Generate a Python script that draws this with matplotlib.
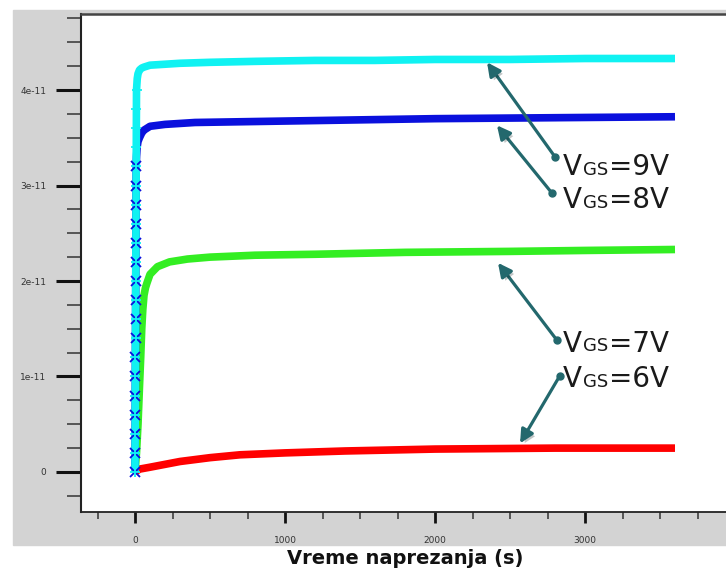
import matplotlib.pyplot as plt
import matplotlib.patheffects as pe
from matplotlib.patches import Rectangle
from matplotlib.ticker import MultipleLocator

# stress time (s) and drain current (A, in units of 1e-11) per gate voltage
t_9v = [0, 0.5, 1, 1.5, 2, 2.5, 3, 3.5, 4, 4.5, 5, 5.5, 6, 6.5, 7, 7.5, 8, 8.5, 9, 9.5, 10,
        15, 20, 30, 45, 60, 100, 200, 300, 500, 800, 1200, 1600, 2000, 2500, 3000, 3600]
i_9v = [0, 0.2, 0.4, 0.6, 0.8, 1.0, 1.2, 1.4, 1.6, 1.8, 2.0, 2.2, 2.4, 2.6, 2.8, 3.0, 3.2, 3.4, 3.6, 3.8, 4.0,
        4.12, 4.17, 4.21, 4.23, 4.24, 4.26, 4.27, 4.28, 4.29, 4.30, 4.31, 4.31, 4.32, 4.32, 4.33, 4.33]

t_8v = [0, 0.5, 1, 1.5, 2, 2.5, 3, 3.5, 4, 4.5, 5, 5.5, 6, 6.5, 7, 7.5, 8,
        10, 14, 20, 30, 45, 60, 100, 200, 400, 800, 1200, 2000, 2800, 3600]
i_8v = [0, 0.2, 0.4, 0.6, 0.8, 1.0, 1.2, 1.4, 1.6, 1.8, 2.0, 2.2, 2.4, 2.6, 2.8, 3.0, 3.2,
        3.3, 3.4, 3.46, 3.5, 3.55, 3.58, 3.62, 3.64, 3.66, 3.67, 3.68, 3.70, 3.71, 3.72]

t_7v = [0, 10, 20, 30, 38, 45, 52, 60, 70, 80, 100, 150, 230, 350, 500, 800, 1200, 1800, 2500, 3000, 3600]
i_7v = [0, 0.2, 0.5, 0.9, 1.2, 1.5, 1.7, 1.85, 1.93, 1.98, 2.07, 2.15, 2.2, 2.23, 2.25, 2.27, 2.28, 2.30,
        2.31, 2.32, 2.33]

t_6v = [0, 30, 100, 200, 300, 400, 500, 700, 1000, 1400, 2000, 2800, 3600]
i_6v = [0, 0.03, 0.05, 0.08, 0.11, 0.13, 0.15, 0.18, 0.20, 0.22, 0.24, 0.25, 0.25]

n_rise = [21, 17, 1, 1]  # leading points drawn with markers

labels = ['V', 'GS', '=9V', '=8V', '=7V', '=6V']
arrow_tail = [(2800, 3.30), (2780, 2.92), (2813, 1.38), (2833, 1.01)]
arrow_head = [(2347, 4.29), (2413, 3.63), (2420, 2.19), (2567, 0.30)]
text_pos = [(2855, 3.11), (2855, 2.76), (2855, 1.26), (2855, 0.89)]

fig = plt.figure(figsize=(7.26, 5.72), dpi=100)
fig.patches.append(Rectangle((13 / 726, 27 / 572), 713 / 726, 535 / 572,
                             transform=fig.transFigure, color='#d3d3d3', zorder=-5))
ax = fig.add_axes([81 / 726, 60 / 572, 645 / 726, 498 / 572])
ax.set_facecolor('white')

scale = 1e-11
series = [
    (t_6v, i_6v, '#ff0000', 'o', n_rise[3]),
    (t_7v, i_7v, '#33ee22', 'o', n_rise[2]),
    (t_8v, i_8v, '#0a10dd', 'x', n_rise[1]),
    (t_9v, i_9v, '#10f2f2', '+', n_rise[0]),
]
for t, i, c, m, n in series:
    y = [v * scale for v in i]
    ax.plot(t, y, color=c, lw=5.5, solid_capstyle='butt', zorder=2)
    if n > 1:
        ax.plot(t[:n], y[:n], ls='none', marker=m, ms=7, mew=1.3, color=c, zorder=3)

teal = '#23686d'
for k in range(4):
    tx, ty = arrow_tail[k]
    hx, hy = arrow_head[k]
    ann = ax.annotate('', xy=(hx, hy * scale), xytext=(tx, ty * scale),
                      arrowprops=dict(arrowstyle='-|>', color=teal, lw=2.3,
                                      mutation_scale=20, shrinkA=0, shrinkB=0),
                      zorder=5)
    ann.arrow_patch.set_path_effects([pe.withSimplePatchShadow(offset=(2, -2), alpha=0.25)])
    ax.plot([tx], [ty * scale], 'o', color=teal, ms=5, zorder=6)

    x0, y0 = text_pos[k]
    t1 = ax.text(x0, y0 * scale, labels[0], fontsize=20, color='#1a1a1a', va='baseline', zorder=6)
    t2 = ax.annotate(labels[1], xy=(1, 0), xycoords=t1, xytext=(0.5, 1.65),
                     textcoords='offset points', fontsize=13, color='#1a1a1a', va='bottom')
    ax.annotate(labels[2 + k], xy=(1, 0), xycoords=t2, xytext=(0.5, -1.65),
                textcoords='offset points', fontsize=20, color='#1a1a1a', va='bottom')

ax.set_xlim(-360, 3940)
ax.set_ylim(-0.419e-11, 4.796e-11)

ax.xaxis.set_major_locator(MultipleLocator(1000))
ax.xaxis.set_minor_locator(MultipleLocator(250))
ax.yaxis.set_major_locator(MultipleLocator(1e-11))
ax.yaxis.set_minor_locator(MultipleLocator(0.25e-11))
ax.set_yticks([0, 1e-11, 2e-11, 3e-11, 4e-11], ['0', '1e-11', '2e-11', '3e-11', '4e-11'])
ax.set_xticks([0, 1000, 2000, 3000], ['0', '1000', '2000', '3000'])

ax.tick_params(axis='y', which='major', length=18, width=2.2, pad=7, labelsize=6.5,
               color='#111111', labelcolor='#333333')
ax.tick_params(axis='y', which='minor', length=10, width=1.1, color='#333333')
ax.tick_params(axis='x', which='major', length=8, width=2.0, pad=9, labelsize=6.5,
               color='#111111', labelcolor='#333333')
ax.tick_params(axis='x', which='minor', length=5, width=1.1, color='#333333')

ax.spines['right'].set_visible(False)
ax.spines['left'].set_linewidth(1.5)
ax.spines['left'].set_color('#222222')
ax.spines['bottom'].set_linewidth(1.3)
ax.spines['bottom'].set_color('#222222')
ax.spines['top'].set_linewidth(1.8)
ax.spines['top'].set_color('#444444')

fig.text(405 / 726, 13 / 572, 'Vreme naprezanja (s)', fontsize=14, fontweight='bold',
         ha='center', va='center', color='#111111')

fig.savefig('out.png', dpi=100)
